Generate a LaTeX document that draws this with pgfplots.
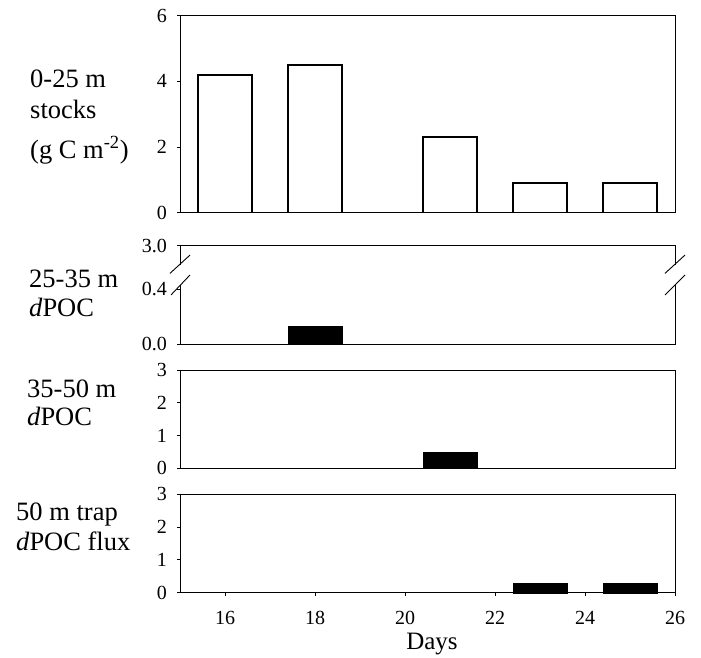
\documentclass[border=0pt]{standalone}
\usepackage{fontspec}
\setmainfont{Liberation Serif}
\usepackage{pgfplots}
\pgfplotsset{compat=1.18}
\newcommand{\lab}{\fontsize{25}{28}\selectfont}
\newcommand{\side}{\fontsize{26.5}{30}\selectfont}
\begin{document}
\begin{tikzpicture}
\useasboundingbox (0pt,0pt) rectangle (701pt,-657pt);
\pgfplotsset{
  panel/.style={scale only axis, width=495pt, xmin=15, xmax=26, ymin=0,
    anchor=north west, clip=false,
    axis line style={line width=0.9pt},
    tick align=outside, major tick length=3pt,
    every tick/.style={black, line width=0.8pt},
    xtick=\empty, ytick pos=left, xtick pos=bottom,
    tick label style={font=\fontsize{20}{24}\selectfont},
    /pgf/number format/assume math mode=true,
    yticklabel style={inner sep=0pt, xshift=-10pt},
  },
}
% Panel 1
\begin{axis}[panel, at={(180pt,-15.7pt)}, height=197pt, ymax=6, ytick={0,2,4,6}]
\addplot[ybar, bar width=1.2, draw=black, fill=white, line width=1.4pt]
  coordinates {(16,4.2) (18,4.5) (21,2.3) (23,0.9) (25,0.9)};
\end{axis}
% Panel 2 (broken axis: 0.4 -> 3.0)
\begin{axis}[panel, at={(180pt,-245.7pt)}, height=98.6pt, ymax=0.717,
  ytick={0,0.4,0.717}, yticklabels={0.0,0.4,3.0}]
\addplot[ybar, bar width=1.2, draw=black, fill=black]
  coordinates {(18,0.13)};
\coordinate (LA) at (axis cs:15,0.43);
\coordinate (LB) at (axis cs:15,0.58);
\coordinate (RA) at (axis cs:26,0.43);
\coordinate (RB) at (axis cs:26,0.58);
\coordinate (L1) at (axis cs:15,0.359);
\coordinate (L2) at (axis cs:15,0.504);
\coordinate (L3) at (axis cs:15,0.516);
\coordinate (L4) at (axis cs:15,0.649);
\coordinate (R1) at (axis cs:26,0.359);
\coordinate (R2) at (axis cs:26,0.504);
\coordinate (R3) at (axis cs:26,0.516);
\coordinate (R4) at (axis cs:26,0.649);
\end{axis}
\draw[white, line width=3pt] (LA) -- (LB);
\draw[white, line width=3pt] (RA) -- (RB);
\draw[line width=0.9pt] ([xshift=-9pt]L1) -- ([xshift=10pt]L2);
\draw[line width=0.9pt] ([xshift=-10pt]L3) -- ([xshift=10pt]L4);
\draw[line width=0.9pt] ([xshift=-10pt]R1) -- ([xshift=10pt]R2);
\draw[line width=0.9pt] ([xshift=-10pt]R3) -- ([xshift=10pt]R4);
% Panel 3
\begin{axis}[panel, at={(180pt,-370pt)}, height=98.3pt, ymax=3, ytick={0,1,2,3}]
\addplot[ybar, bar width=1.2, draw=black, fill=black]
  coordinates {(21,0.5)};
\end{axis}
% Panel 4
\begin{axis}[panel, at={(180pt,-494pt)}, height=98.7pt, ymax=3, ytick={0,1,2,3},
  xtick={16,18,...,26}, xticklabel style={inner sep=0pt, yshift=-15pt},
  xlabel={Days}, xlabel style={font=\lab, anchor=base, at={(rel axis cs:0.509,0)}, yshift=-57pt}]
\addplot[ybar, bar width=1.2, draw=black, fill=black]
  coordinates {(23,0.28) (25,0.28)};
\end{axis}
% Left labels
\node[anchor=base west, inner sep=0pt, font=\side] at (30pt,-87pt) {0-25 m};
\node[anchor=base west, inner sep=0pt, font=\side] at (30pt,-118pt) {stocks};
\node[anchor=base west, inner sep=0pt, font=\side] at (30pt,-158pt) {(g C m\textsuperscript{-2})};
\node[anchor=base west, inner sep=0pt, font=\side] at (29pt,-287pt) {25-35 m};
\node[anchor=base west, inner sep=0pt, font=\side] at (29pt,-316pt) {\textit{d}POC};
\node[anchor=base west, inner sep=0pt, font=\side] at (27pt,-397pt) {35-50 m};
\node[anchor=base west, inner sep=0pt, font=\side] at (27pt,-425pt) {\textit{d}POC};
\node[anchor=base west, inner sep=0pt, font=\side] at (16pt,-520pt) {50 m trap};
\node[anchor=base west, inner sep=0pt, font=\side] at (16pt,-550pt) {\textit{d}POC flux};
\end{tikzpicture}
\end{document}
